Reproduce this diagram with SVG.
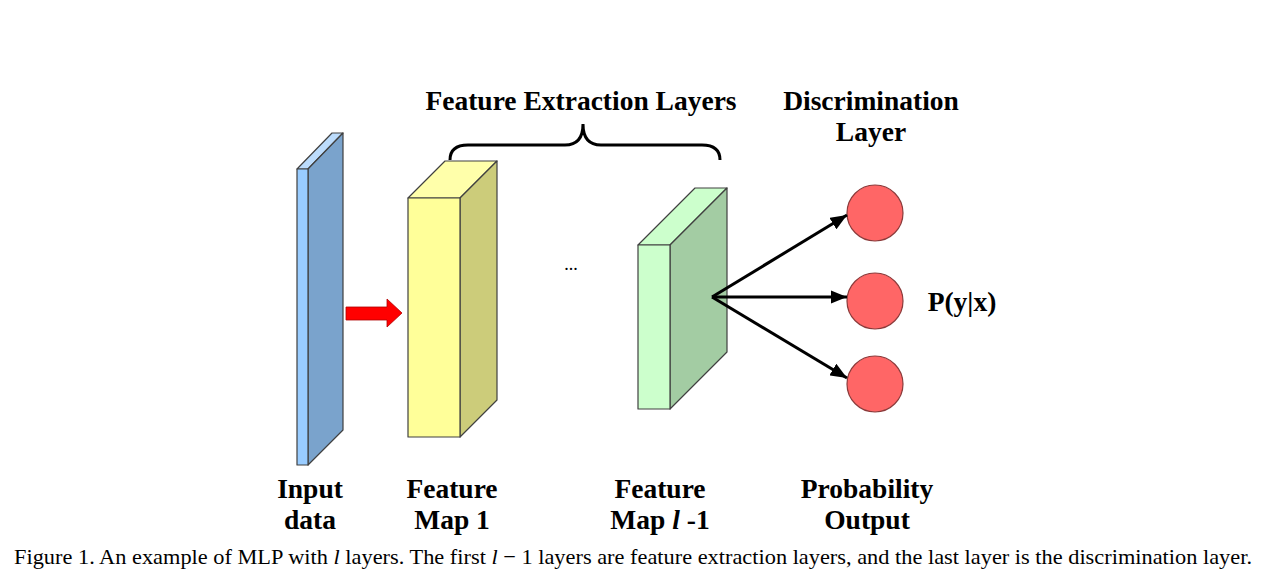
<svg xmlns="http://www.w3.org/2000/svg" width="1274" height="587" viewBox="0 0 1274 587">
<defs>
<style>
.lbl{font-family:"Liberation Serif","Times New Roman",serif;font-weight:bold;font-size:27.5px;fill:#000;text-anchor:middle}
.cap{font-family:"Liberation Serif","Times New Roman",serif;font-size:22px;fill:#000}
.edge{stroke:#404040;stroke-width:1.2;stroke-linejoin:round}
.conn{stroke:#000;stroke-width:3;fill:none}
.circ{fill:#ff6666;stroke:#8b3a3a;stroke-width:1.2}
</style>
<marker id="ah" viewBox="0 0 10 10" refX="10" refY="5" markerWidth="5.5" markerHeight="4.5" orient="auto" markerUnits="strokeWidth" preserveAspectRatio="none">
<path d="M0,0 L10,5 L0,10 z" fill="#000"/>
</marker>
</defs>
<rect width="1274" height="587" fill="#fff"/>

<g id="input-data">
<polygon class="edge" points="297,169 332,133 343,133 308,169" fill="#bcdcfc"/>
<polygon class="edge" points="308,169 343,133 343,430 308,465" fill="#7aa3cc"/>
<rect class="edge" x="297" y="169" width="11" height="296" fill="#99ccff"/>
</g>

<g id="feature-map-1">
<polygon class="edge" points="408,198 445,161 497,161 460,198" fill="#ffffaa"/>
<polygon class="edge" points="460,198 497,161 497,400 460,437" fill="#cccc7a"/>
<rect class="edge" x="408" y="198" width="52" height="239" fill="#ffff99"/>
</g>

<g id="feature-map-l-1">
<polygon class="edge" points="638,245 695,188 727,188 670,245" fill="#ccffcc"/>
<polygon class="edge" points="670,245 727,188 727,352 670,409" fill="#a3cca3"/>
<rect class="edge" x="638" y="245" width="32" height="164" fill="#ccffcc"/>
</g>

<g id="output-nodes">
<circle class="circ" cx="875" cy="213" r="28"/>
<circle class="circ" cx="875" cy="301" r="28"/>
<circle class="circ" cx="875" cy="384" r="28"/>
</g>

<g id="connectors">
<polygon points="346,307 387,307 387,299 402,313 387,327 387,320 346,320" fill="#ff0000" stroke="#b00000" stroke-width="0.8"/>
<line class="conn" x1="712" y1="297" x2="847" y2="215" marker-end="url(#ah)"/>
<line class="conn" x1="712" y1="297" x2="847" y2="297" marker-end="url(#ah)"/>
<line class="conn" x1="712" y1="297" x2="847" y2="378" marker-end="url(#ah)"/>
<path class="conn" d="M450,160 Q450,145 468,145 L565,145 Q583,145 583,124 Q583,145 601,145 L702,145 Q720,145 720,160"/>
</g>

<g id="labels">
<text class="lbl" x="581" y="110">Feature Extraction Layers</text>
<text class="lbl" x="871" y="110">Discrimination</text>
<text class="lbl" x="871" y="141">Layer</text>
<text class="lbl" x="962" y="311">P(y|x)</text>
<text x="571" y="270" font-family="Liberation Serif, serif" font-size="18" text-anchor="middle">...</text>
<text class="lbl" x="310" y="498">Input</text>
<text class="lbl" x="310" y="529">data</text>
<text class="lbl" x="452" y="498">Feature</text>
<text class="lbl" x="452" y="529">Map 1</text>
<text class="lbl" x="660" y="498">Feature</text>
<text class="lbl" x="660" y="529">Map <tspan font-style="italic">l</tspan> -1</text>
<text class="lbl" x="867" y="498">Probability</text>
<text class="lbl" x="867" y="529">Output</text>
<text class="cap" x="14" y="564" textLength="1238" lengthAdjust="spacingAndGlyphs">Figure 1. An example of MLP with <tspan font-style="italic">l</tspan> layers. The first <tspan font-style="italic">l</tspan> − 1 layers are feature extraction layers, and the last layer is the discrimination layer.</text>
</g>
</svg>
